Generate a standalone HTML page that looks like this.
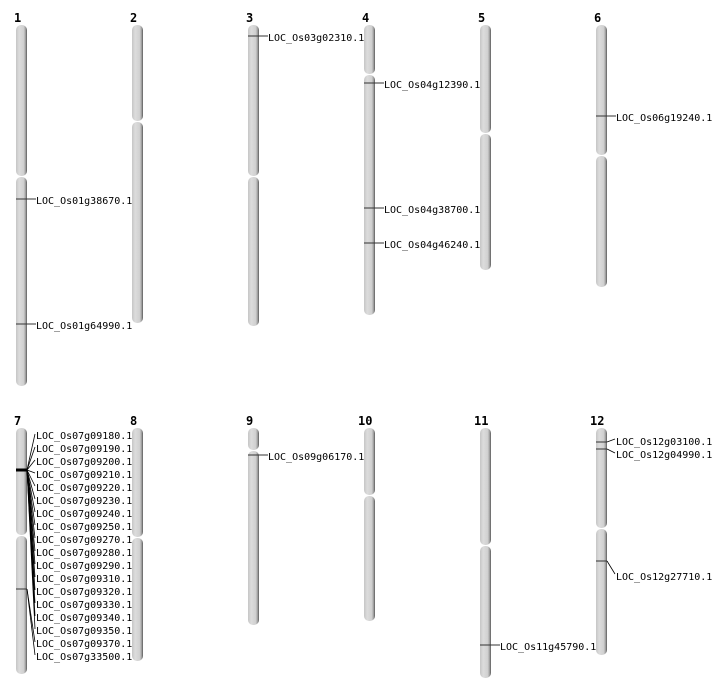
<!DOCTYPE html>
<html><head><meta charset="utf-8"><style>
html,body{margin:0;padding:0;background:#fff;}
svg{display:block;}
text{font-family:"DejaVu Sans Mono","Liberation Mono",monospace;font-size:10px;fill:#000;}
.n{font-family:"DejaVu Sans Mono","Liberation Mono",monospace;font-weight:bold;font-size:12px;}
.c{fill:url(#g);}
.m{stroke:#333;stroke-width:1;}
.l{stroke:#000;stroke-width:0.8;fill:none;}
</style></head><body>
<svg width="712" height="700" viewBox="0 0 712 700" xmlns="http://www.w3.org/2000/svg">
<defs><linearGradient id="g" x1="0" x2="1" y1="0" y2="0">
<stop offset="0" stop-color="#c6c6c6"/><stop offset="0.3" stop-color="#dcdcdc"/><stop offset="0.7" stop-color="#d0d0d0"/><stop offset="0.85" stop-color="#a8a8a8"/><stop offset="1" stop-color="#5a5a5a"/></linearGradient></defs>

<text class="n" x="14" y="22">1</text><text class="n" x="130" y="22">2</text><text class="n" x="246" y="22">3</text><text class="n" x="362" y="22">4</text><text class="n" x="478" y="22">5</text><text class="n" x="594" y="22">6</text>
<text class="n" x="14" y="425">7</text><text class="n" x="130" y="425">8</text><text class="n" x="246" y="425">9</text><text class="n" x="358" y="425">10</text><text class="n" x="474" y="425">11</text><text class="n" x="590" y="425">12</text>

<rect class="c" x="16" y="25" width="11" height="151" rx="5"/><rect class="c" x="16" y="177" width="11" height="209" rx="5"/>
<rect class="c" x="132" y="25" width="11" height="96" rx="5"/><rect class="c" x="132" y="122" width="11" height="201" rx="5"/>
<rect class="c" x="248" y="25" width="11" height="151" rx="5"/><rect class="c" x="248" y="177" width="11" height="149" rx="5"/>
<rect class="c" x="364" y="25" width="11" height="49" rx="5"/><rect class="c" x="364" y="75" width="11" height="240" rx="5"/>
<rect class="c" x="480" y="25" width="11" height="108" rx="5"/><rect class="c" x="480" y="134" width="11" height="136" rx="5"/>
<rect class="c" x="596" y="25" width="11" height="130" rx="5"/><rect class="c" x="596" y="156" width="11" height="131" rx="5"/>
<rect class="c" x="16" y="428" width="11" height="107" rx="5"/><rect class="c" x="16" y="536" width="11" height="138" rx="5"/>
<rect class="c" x="132" y="428" width="11" height="109" rx="5"/><rect class="c" x="132" y="538" width="11" height="123" rx="5"/>
<rect class="c" x="248" y="428" width="11" height="22" rx="5"/><rect class="c" x="248" y="451" width="11" height="174" rx="5"/>
<rect class="c" x="364" y="428" width="11" height="67" rx="5"/><rect class="c" x="364" y="496" width="11" height="125" rx="5"/>
<rect class="c" x="480" y="428" width="11" height="117" rx="5"/><rect class="c" x="480" y="546" width="11" height="132" rx="5"/>
<rect class="c" x="596" y="428" width="11" height="100" rx="5"/><rect class="c" x="596" y="529" width="11" height="126" rx="5"/>

<line class="m" x1="16" y1="199" x2="36" y2="199"/><text x="36" y="204">LOC_Os01g38670.1</text>
<line class="m" x1="16" y1="324" x2="36" y2="324"/><text x="36" y="329">LOC_Os01g64990.1</text>
<line class="m" x1="248" y1="36" x2="268" y2="36"/><text x="268" y="41">LOC_Os03g02310.1</text>
<line class="m" x1="364" y1="83" x2="384" y2="83"/><text x="384" y="88">LOC_Os04g12390.1</text>
<line class="m" x1="364" y1="208" x2="384" y2="208"/><text x="384" y="213">LOC_Os04g38700.1</text>
<line class="m" x1="364" y1="243" x2="384" y2="243"/><text x="384" y="248">LOC_Os04g46240.1</text>
<line class="m" x1="596" y1="116" x2="616" y2="116"/><text x="616" y="121">LOC_Os06g19240.1</text>
<line class="m" x1="248" y1="455" x2="268" y2="455"/><text x="268" y="460">LOC_Os09g06170.1</text>
<line class="m" x1="480" y1="645" x2="500" y2="645"/><text x="500" y="650">LOC_Os11g45790.1</text>
<line class="m" x1="596" y1="442" x2="607" y2="442"/><line class="l" x1="607" y1="442" x2="615" y2="439"/><text x="616" y="445">LOC_Os12g03100.1</text>
<line class="m" x1="596" y1="449" x2="607" y2="449"/><line class="l" x1="607" y1="449" x2="615" y2="453"/><text x="616" y="458">LOC_Os12g04990.1</text>
<line class="m" x1="596" y1="561" x2="607" y2="561"/><line class="l" x1="607" y1="561" x2="615" y2="574"/><text x="616" y="580">LOC_Os12g27710.1</text>

<line x1="16" y1="470" x2="27" y2="470" stroke="#000" stroke-width="3"/>
<line class="m" x1="16" y1="589" x2="27" y2="589" stroke="#555"/>
<g class="l">
<line x1="27" y1="470" x2="35" y2="434"/><line x1="27" y1="470" x2="35" y2="447"/><line x1="27" y1="470" x2="35" y2="460"/><line x1="27" y1="470" x2="35" y2="473"/><line x1="27" y1="470" x2="35" y2="486"/><line x1="27" y1="470" x2="35" y2="499"/><line x1="27" y1="470" x2="35" y2="512"/><line x1="27" y1="470" x2="35" y2="525"/><line x1="27" y1="470" x2="35" y2="538"/><line x1="27" y1="470" x2="35" y2="551"/><line x1="27" y1="470" x2="35" y2="564"/><line x1="27" y1="470" x2="35" y2="577"/><line x1="27" y1="470" x2="35" y2="590"/><line x1="27" y1="470" x2="35" y2="603"/><line x1="27" y1="470" x2="35" y2="616"/><line x1="27" y1="470" x2="35" y2="629"/><line x1="27" y1="589" x2="35" y2="642"/><line x1="27" y1="589" x2="35" y2="655"/>
</g>
<text x="36" y="439">LOC_Os07g09180.1</text><text x="36" y="452">LOC_Os07g09190.1</text><text x="36" y="465">LOC_Os07g09200.1</text><text x="36" y="478">LOC_Os07g09210.1</text><text x="36" y="491">LOC_Os07g09220.1</text><text x="36" y="504">LOC_Os07g09230.1</text><text x="36" y="517">LOC_Os07g09240.1</text><text x="36" y="530">LOC_Os07g09250.1</text><text x="36" y="543">LOC_Os07g09270.1</text><text x="36" y="556">LOC_Os07g09280.1</text><text x="36" y="569">LOC_Os07g09290.1</text><text x="36" y="582">LOC_Os07g09310.1</text><text x="36" y="595">LOC_Os07g09320.1</text><text x="36" y="608">LOC_Os07g09330.1</text><text x="36" y="621">LOC_Os07g09340.1</text><text x="36" y="634">LOC_Os07g09350.1</text><text x="36" y="647">LOC_Os07g09370.1</text><text x="36" y="660">LOC_Os07g33500.1</text>
</svg>
</body></html>
